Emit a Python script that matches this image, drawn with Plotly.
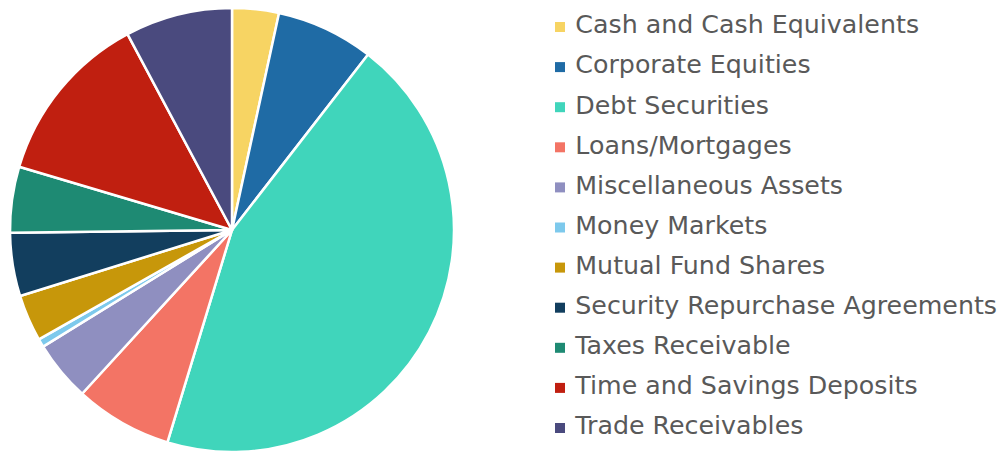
import plotly.graph_objects as go

labels = ["Cash and Cash Equivalents", "Corporate Equities", "Debt Securities",
          "Loans/Mortgages", "Miscellaneous Assets", "Money Markets",
          "Mutual Fund Shares", "Security Repurchase Agreements",
          "Taxes Receivable", "Time and Savings Deposits", "Trade Receivables"]
values = [3.4, 7.1, 44.2, 7.1, 4.4, 0.6, 3.4, 4.6, 4.8, 12.6, 7.8]
colors = ["#F7D463", "#1F6BA5", "#40D5BB", "#F37465", "#8F8FC0", "#7DC9EC",
          "#C7970A", "#123E5E", "#1E8A73", "#C01F10", "#4A4A7E"]

# page body has an 8px margin, so the figure is 8px smaller on each axis
W, H = 999, 444
OFF = 8

fig = go.Figure()
fig.add_trace(go.Pie(
    labels=labels, values=values, sort=False, direction="clockwise", rotation=0,
    marker=dict(colors=colors, line=dict(color="white", width=2.5)),
    textinfo="none", hoverinfo="label+percent", showlegend=False,
    domain=dict(x=[(10 - OFF) / W, (454 - OFF) / W], y=[0, 1]),
))

# legend drawn as a scatter on a hidden category axis
n = len(labels)
first_px, step_px = 27 - OFF, 40.1
y_top = -first_px / step_px
y_bot = (n - 1) + (H - (first_px + (n - 1) * step_px)) / step_px

fig.add_trace(go.Scatter(
    x=[0] * n, y=labels, mode="markers+text",
    marker=dict(symbol="square", size=10, color=colors),
    text=[" " + l for l in labels], textposition="middle right",
    textfont=dict(family="DejaVu Sans", size=25.3, color="#595959"),
    cliponaxis=False, hoverinfo="skip", showlegend=False,
    xaxis="x", yaxis="y",
))

fig.update_layout(
    width=W, height=H, margin=dict(l=0, r=0, t=0, b=0),
    paper_bgcolor="white", plot_bgcolor="rgba(0,0,0,0)",
    xaxis=dict(domain=[(560 - OFF) / W, 1], range=[0, 1], visible=False, fixedrange=True),
    yaxis=dict(domain=[0, 1], type="category",
               categoryorder="array", categoryarray=labels,
               range=[y_bot, y_top], visible=False, fixedrange=True),
)

fig.write_html("out.html")
